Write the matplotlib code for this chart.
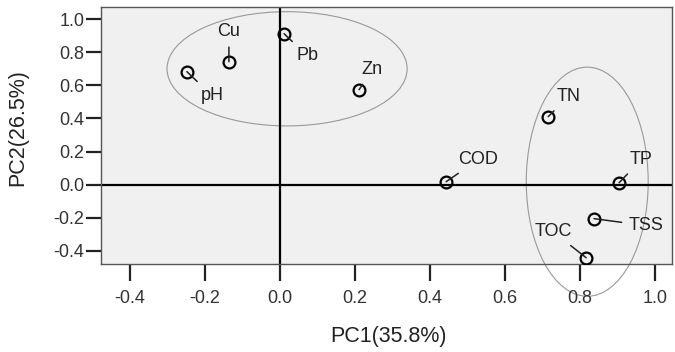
import matplotlib.pyplot as plt
from matplotlib.patches import Ellipse

plt.rcParams['font.family'] = ['Liberation Sans', 'DejaVu Sans']

# loadings
names = ['pH', 'Cu', 'Pb', 'Zn', 'TN', 'COD', 'TP', 'TSS', 'TOC']
pc1 = [-0.248, -0.136, 0.011, 0.211, 0.715, 0.443, 0.904, 0.837, 0.816]
pc2 = [0.683, 0.743, 0.912, 0.574, 0.411, 0.018, 0.012, -0.205, -0.441]

xticks = [-0.4, -0.2, 0.0, 0.2, 0.4, 0.6, 0.8, 1.0]
yticks = [-0.4, -0.2, 0.0, 0.2, 0.4, 0.6, 0.8, 1.0]

# label offsets in pixels (x right, y up)
offsets = {'pH': (25, -24), 'Cu': (0, 30), 'Pb': (23, -22), 'Zn': (13, 20),
           'TN': (20, 20), 'COD': (32, 22), 'TP': (22, 23), 'TSS': (52, -7),
           'TOC': (-33, 26)}

fig = plt.figure(figsize=(6.75, 3.52), dpi=100)
ax = fig.add_axes([0.1496, 0.25, 0.846, 0.73])
ax.set_facecolor('#f0f0f0')

ax.set_xlim(-0.477, 1.045)
ax.set_ylim(-0.479, 1.073)

ax.axhline(0, color='black', lw=1.6, zorder=2)
ax.axvline(0, color='black', lw=1.6, zorder=2)

# grouping ellipses
ax.add_patch(Ellipse((0.019, 0.70), 0.64, 0.69, fill=False,
                     edgecolor='#999999', lw=0.8, zorder=1))
e2 = Ellipse((0.819, 0.018), 0.325, 1.384, fill=False,
             edgecolor='#999999', lw=0.8, zorder=1, clip_on=False)
ax.add_patch(e2)

ax.plot(pc1, pc2, 'o', ms=8.5, mfc='none', mec='black', mew=1.6, zorder=3)

for n, x, y in zip(names, pc1, pc2):
    dx, dy = offsets[n]
    ax.annotate(n, (x, y), xytext=(dx, dy), textcoords='offset pixels',
                ha='center', va='center', fontsize=13, color='#222222',
                arrowprops=dict(arrowstyle='-', color='#222222', lw=1.1,
                                shrinkA=3, shrinkB=0), zorder=4)

ax.set_xticks(xticks)
ax.set_yticks(yticks)
ax.set_xticklabels([f'{t:.1f}' for t in xticks])
ax.set_yticklabels([f'{t:.1f}' for t in yticks])
ax.tick_params(axis='both', direction='out', width=1.6,
               labelsize=13, labelcolor='#333333', color='#222222')
ax.tick_params(axis='x', length=12, pad=7)
ax.tick_params(axis='y', length=11, pad=1)

for s in ax.spines.values():
    s.set_color('#555555')
    s.set_linewidth(1.0)

ax.set_xlabel('PC1(35.8%)', fontsize=15.5, color='#222222')
ax.set_ylabel('PC2(26.5%)', fontsize=15.5, color='#222222')
ax.xaxis.label.set_va('center')
ax.yaxis.label.set_va('center')
ax.xaxis.set_label_coords(0.503, -0.284)
ax.yaxis.set_label_coords(-0.145, 0.53)

fig.savefig('out.png', dpi=100)
